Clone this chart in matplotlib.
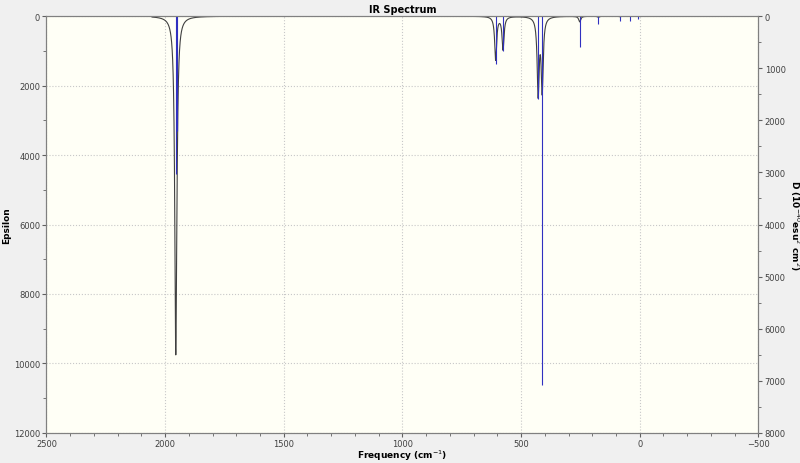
import numpy as np
import matplotlib
matplotlib.use("Agg")
import matplotlib.pyplot as plt

# band data
freqs = [1955, 1950, 607, 576, 428, 411, 253, 174, 83, 42, 8]
dip = [3030, 2200, 920, 670, 1590, 7080, 595, 150, 100, 100, 60]        # D, 1e-40 esu^2 cm^2
eps_peak = [9300, 900, 1250, 950, 2200, 2100, 160, 30, 15, 10, 5]      # epsilon contribution at peak
fwhm = 10.0

x = np.linspace(2055, -15, 8000)
spec = np.zeros_like(x)
g = fwhm / 2
for f, e in zip(freqs, eps_peak):
    spec += e * g**2 / ((x - f)**2 + g**2)

fig = plt.figure(figsize=(8, 4.64), dpi=100, facecolor="#f0f0f0")
ax = fig.add_axes([0.058, 0.065, 0.89, 0.898])
ax.set_facecolor("#fffff6")
ax.plot(x, spec, color="#404040", lw=0.8)
ax.set_xlim(2500, -500)
ax.set_ylim(12000, 0)
ax.set_xticks([2500, 2000, 1500, 1000, 500, 0, -500])
ax.set_xticks(np.arange(-500, 2501, 100), minor=True)
ax.set_yticks(np.arange(0, 12001, 2000))
ax.set_yticks(np.arange(0, 12001, 1000), minor=True)
ax.grid(True, which="major", ls=":", color="#c8c8c8", lw=0.8)
ax.tick_params(labelsize=6, length=3, pad=1.5, color="#606060", labelcolor="#404040")
ax.tick_params(which="minor", length=2, color="#606060")
ax.set_xlabel("Frequency (cm$^{-1}$)", fontsize=6.5, fontweight="bold", labelpad=0)
ax.set_ylabel("Epsilon", fontsize=6.5, fontweight="bold", labelpad=2)
ax.set_title("IR Spectrum", fontsize=7, fontweight="bold", pad=3)
for s in ax.spines.values():
    s.set_color("#808080")

ax2 = ax.twinx()
ax2.set_ylim(8000, 0)
ax2.vlines(freqs, 0, dip, color="#3030c0", lw=0.8)
ax2.set_yticks(np.arange(0, 8001, 1000))
ax2.set_yticks(np.arange(0, 8001, 500), minor=True)
ax2.tick_params(labelsize=6, length=3, pad=1.5, color="#606060", labelcolor="#404040")
ax2.tick_params(which="minor", length=2, color="#606060")
ax2.set_ylabel("D (10$^{-40}$esu$^2$ cm$^2$)", fontsize=6.5, fontweight="bold", rotation=270, labelpad=11)
for s in ax2.spines.values():
    s.set_color("#808080")

fig.savefig("out.png", dpi=100, facecolor=fig.get_facecolor())
